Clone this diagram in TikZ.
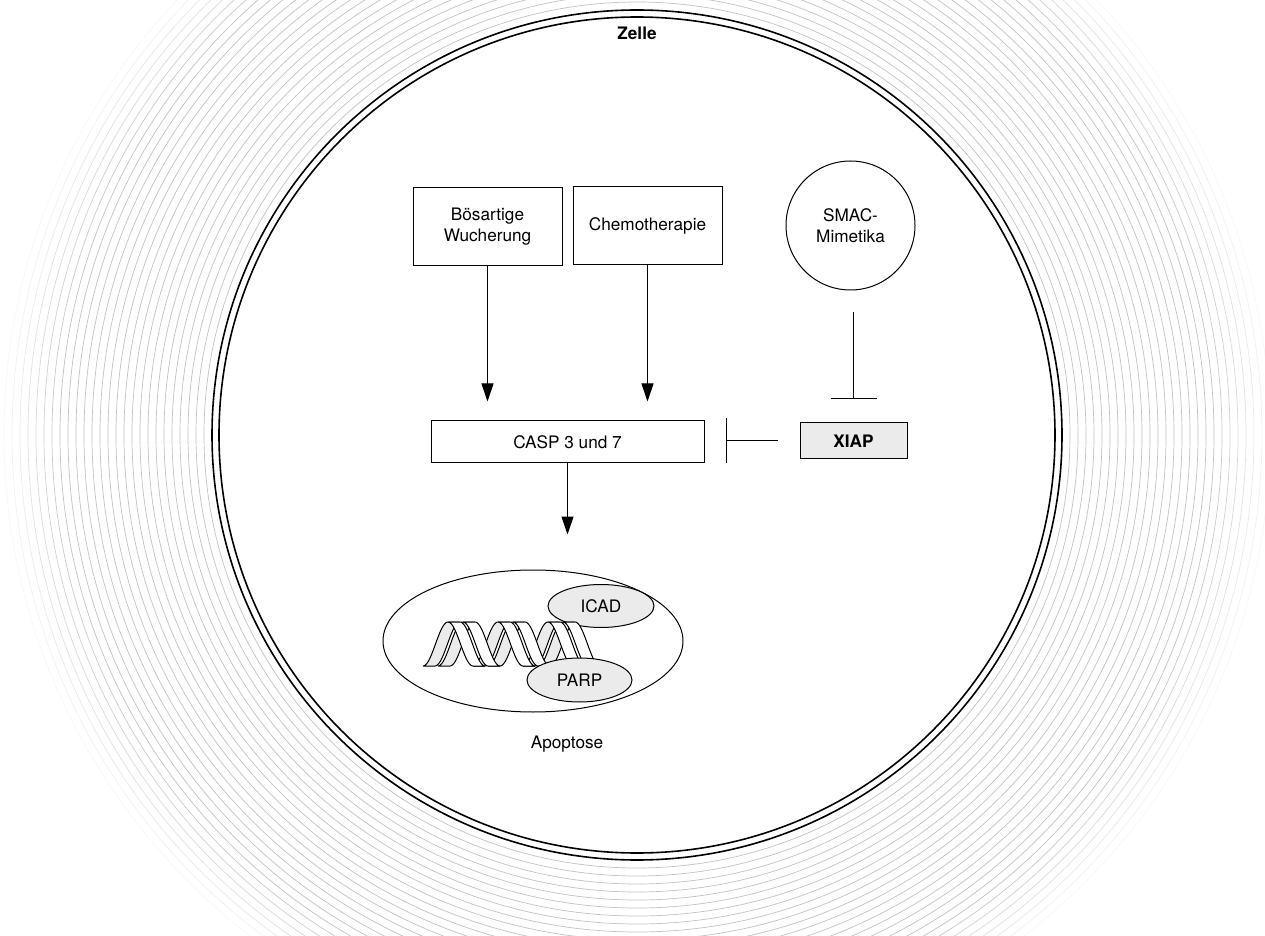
\documentclass[tikz,border=0pt]{standalone}
\usepackage{fontspec}
\setmainfont{TeX Gyre Heros}
\usetikzlibrary{arrows.meta,shapes.geometric}
\definecolor{protgray}{HTML}{EBEBEB}

\begin{document}
\begin{tikzpicture}[x=0.5pt, y=-0.5pt,
        font=\fontsize{8.6pt}{10.4pt}\selectfont,
        box/.style={draw, line width=0.5pt, inner sep=0pt, align=center,
            minimum width=74.5pt, minimum height=39pt},
        blob/.style={draw, ellipse, line width=0.5pt, fill=protgray, inner sep=0pt,
            minimum width=53pt, minimum height=21.5pt},
        act/.style={line width=0.5pt, -{Triangle[width=6pt,length=9pt]}},
        inhib/.style={line width=0.5pt, -{Bar[width=23pt]}, shorten <=11pt}]
    \clip (0,0) rectangle (1265,936);

    %% membrane of the cell, with its halo
    \coordinate (cell) at (637,435);
    \foreach \i in {1,...,26} {
        \pgfmathsetmacro\r{425+8*\i}
        \pgfmathtruncatemacro\g{\i<20 ? 24 : 24-(\i-19)*3}
        \draw [black!\g, line width=0.35pt] (cell) circle [radius=\r];
    }
    \draw [line width=0.8pt] (cell) circle [radius=425];
    \draw [line width=0.8pt] (cell) circle [radius=418];
    \node [font=\fontsize{8.6pt}{10.4pt}\selectfont\bfseries] (zelle) at (637,33) {Zelle};

    %% triggers
    \node [box] (bw) at (487.5,227) {Bösartige\\Wucherung};
    \node [box] (chemo) at (647.5,226) {Chemotherapie};
    \node [draw, circle, line width=0.5pt, inner sep=0pt, align=center,
        minimum size=64.5pt] (smac) at (850.5,225.5) {SMAC-\\Mimetika};

    %% caspases and their inhibitor
    \node [box, minimum width=136.5pt, minimum height=21pt] (casp) at (567.5,442) {CASP 3 und 7};
    \node [box, fill=protgray, minimum width=53.5pt, minimum height=18pt,
        font=\fontsize{8.6pt}{10.4pt}\selectfont\bfseries] (xiap) at (853.5,441) {XIAP};

    \draw [act, shorten >=9.5pt] (bw.south) -- (bw.south |- casp.north);
    \draw [act, shorten >=9.5pt] (chemo.south) -- (chemo.south |- casp.north);
    \draw [inhib, shorten >=11.5pt] (xiap.north |- smac.south) -- (xiap.north);
    \draw [inhib, -{Bar[width=22.5pt]}, shorten >=10.5pt] (xiap.west) -- (casp.east |- xiap.west);

    %% nucleus with DNA
    \node [draw, ellipse, line width=0.5pt, minimum width=150pt, minimum height=71pt] (nuc) at (533,641) {};
    \draw [act, shorten >=17.5pt] (casp.south) -- (casp.south |- nuc.north);
    \node [blob] (icad) at (601,606) {ICAD};

    % rising half turns lie behind, falling ones in front
    \foreach \a in {423,473,523,438,488,538} {
        \pgfmathsetmacro\b{\a+25}
        \filldraw [fill=protgray, line width=0.5pt, samples=24]
            plot [domain=\a:\b] (\x, {644+22*cos(180*(\x-\a)/25)})
            -- plot [domain=\b:\a] ({\x+12}, {644+22*cos(180*(\x-\a)/25)}) -- cycle;
    }
    \foreach \a in {448,498,548,463,513,563} {
        \pgfmathsetmacro\b{\a+25}
        \filldraw [fill=white, line width=0.5pt, samples=24]
            plot [domain=\a:\b] (\x, {644-22*cos(180*(\x-\a)/25)})
            -- plot [domain=\b:\a] ({\x+12}, {644-22*cos(180*(\x-\a)/25)}) -- cycle;
    }

    \node [blob, minimum width=52.5pt, minimum height=22pt] (parp) at (579.5,680) {PARP};
    \node (apo) at (567,744) {Apoptose};
\end{tikzpicture}
\end{document}
